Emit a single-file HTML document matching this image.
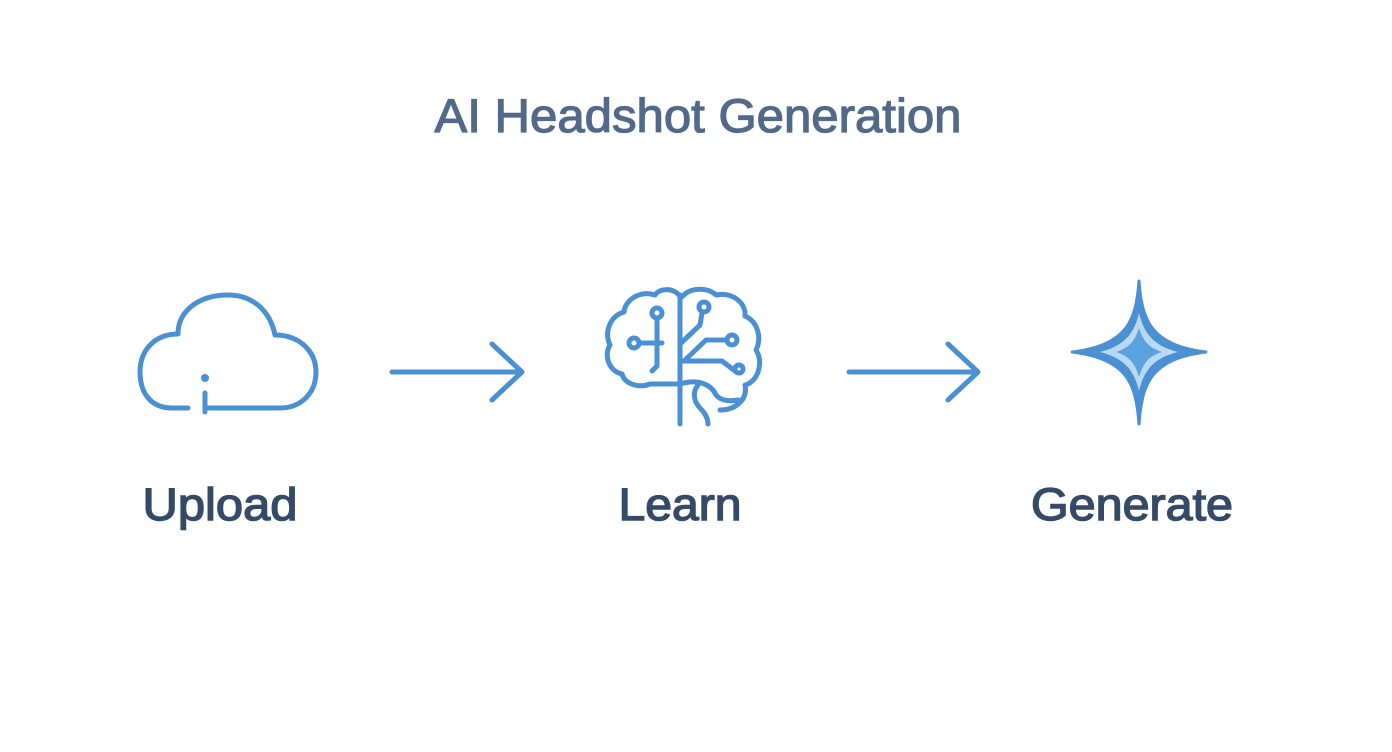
<!DOCTYPE html>
<html><head><meta charset="utf-8"><style>
html,body{margin:0;padding:0;background:#fff;}
svg{display:block;}
</style></head><body>
<svg width="1392" height="752" viewBox="0 0 1392 752" xmlns="http://www.w3.org/2000/svg">
<rect width="1392" height="752" fill="#ffffff"/>
<text x="698" y="132" text-anchor="middle" font-family="Liberation Sans, sans-serif" font-size="47" fill="#52698a" stroke="#52698a" stroke-width="1.2" textLength="527" lengthAdjust="spacingAndGlyphs">AI Headshot Generation</text>

<g fill="none" stroke="#4a90d2" stroke-width="5" stroke-linecap="round" stroke-linejoin="round">
<!-- cloud -->
<path d="M188 408 L172 408 C150 408 140 392 140 372 C140 350 155 334 178 334 C178 310 200 295 228 295 C252 295 270 310 275 335 C300 335 316 352 316 372 C316 394 300 408 280 408 L208 408"/>
<path d="M205 393 L205 412"/>
<!-- arrow 1 -->
<path d="M392 372 L522 372 M492 344 L522 372 L492 400"/>
<!-- arrow 2 -->
<path d="M849 372 L978 372 M948 344 L978 372 L948 400"/>
<!-- brain -->
<path d="M680 295 L680 424"/>
<path d="M680 297 C676 288 660 287 655 295 C640 290 625 300 624 312 C610 316 604 332 610 345 C603 356 610 372 622 374 C625 385 640 388 650 384 L678 384"/>
<path d="M682 297 C690 287 708 287 716 295 C732 292 746 302 745 316 C758 322 762 338 756 350 C764 362 758 382 745 385 C748 400 735 410 720 410"/>
<path d="M680 384 C700 378 712 386 716 395 C720 400 728 402 738 400"/>
<path d="M698 385 C692 392 694 402 700 408 C706 414 708 420 708 424"/>
<circle cx="657" cy="313" r="5"/>
<path d="M657 319 L657 366 L652 371"/>
<circle cx="634" cy="343" r="5"/>
<path d="M640 343 L662 343"/>
<circle cx="704" cy="307" r="5"/>
<path d="M702 313 L700 325 L681 343"/>
<circle cx="732" cy="340" r="5"/>
<path d="M726 340 L706 340 L685 360"/>
<path d="M681 361 L722 361 L735 371"/>
<circle cx="739" cy="369" r="4"/>
</g>
<circle cx="205" cy="378" r="4" fill="#4a90d2"/>

<!-- star -->
<path d="M1139 281 C1142 320 1150 345 1206 352 C1150 359 1142 384 1139 424 C1136 384 1128 359 1072 352 C1128 345 1136 320 1139 281 Z" fill="#4a90d2" stroke="#4a90d2" stroke-width="3" stroke-linejoin="round"/>
<path d="M1139 313 C1144 334 1154 346 1178 352 C1154 358 1144 370 1139 391 C1134 370 1124 358 1100 352 C1124 346 1134 334 1139 313 Z" fill="#b9d8f2"/>
<path d="M1139 328 C1143 341 1149 348 1162 352 C1149 356 1143 363 1139 377 C1135 363 1129 356 1116 352 C1129 348 1135 341 1139 328 Z" fill="#5aa2e0"/>

<g font-family="Liberation Sans, sans-serif" font-size="45" fill="#344a66" stroke="#344a66" stroke-width="1.4">
<text x="220" y="520" text-anchor="middle" textLength="155" lengthAdjust="spacingAndGlyphs">Upload</text>
<text x="680" y="520" text-anchor="middle" textLength="123" lengthAdjust="spacingAndGlyphs">Learn</text>
<text x="1132" y="520" text-anchor="middle" textLength="202" lengthAdjust="spacingAndGlyphs">Generate</text>
</g>
</svg>
</body></html>
